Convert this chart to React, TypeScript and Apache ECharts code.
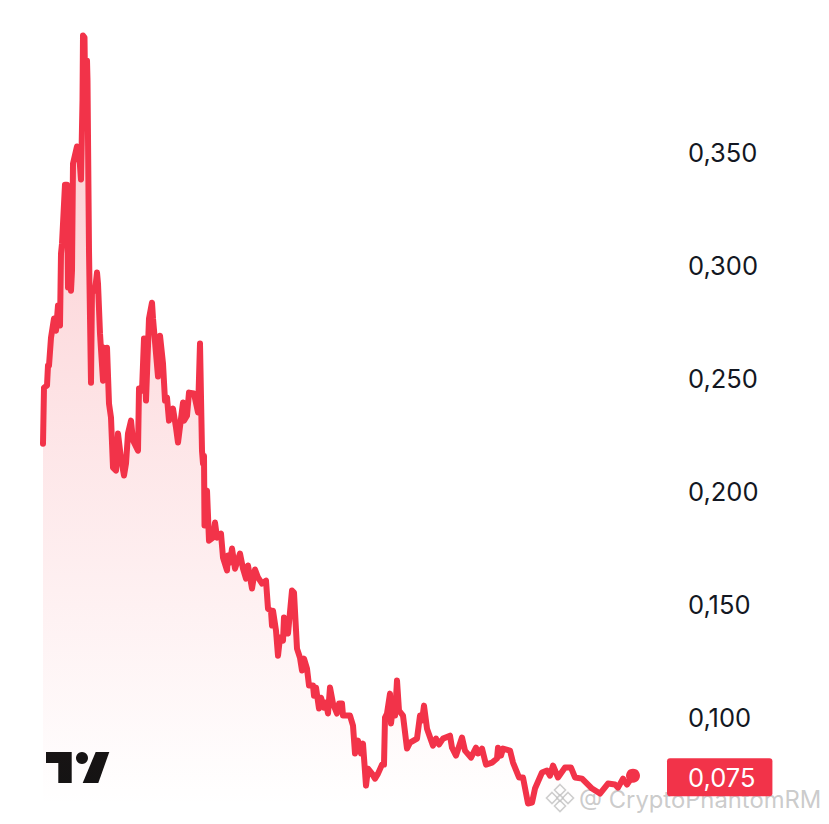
import React, { useEffect, useRef } from "react";
import * as echarts from "echarts";

// [day, price]
const launchRally: [number, number][] = [
  [1, 0.2212], [2, 0.246], [5, 0.2469], [6, 0.2558], [7, 0.2558], [9, 0.2681], [12, 0.2766], [14, 0.2712], [16, 0.2823], [18, 0.2735],
  [19, 0.3053], [20, 0.3097], [23, 0.3358], [25, 0.3358], [26, 0.2903], [28, 0.308], [29, 0.2889], [30, 0.2978], [31, 0.3451], [35, 0.3527],
  [37, 0.35], [39, 0.3381], [40.5, 0.373], [41, 0.4018], [42.5, 0.4009], [43, 0.3819], [45, 0.3907], [45.5, 0.3819], [47, 0.3066], [49, 0.2482],
];
const firstDecline: [number, number][] = [
  [50, 0.2898], [53, 0.2889], [55, 0.2969], [56, 0.292], [58, 0.2699], [61, 0.2491], [62, 0.2637], [64, 0.2505], [65, 0.2637], [67, 0.2389],
  [69, 0.2327], [71, 0.2106], [74, 0.2093], [76, 0.2257], [79, 0.2146], [82, 0.2071], [84, 0.2124], [86, 0.2257], [89, 0.2314], [91, 0.2226],
  [96, 0.2181], [97, 0.2456], [100, 0.2447], [102, 0.2677], [104, 0.2403], [107, 0.2766], [110, 0.2836], [111, 0.2766], [116, 0.2509], [118, 0.269],
  [121, 0.2566], [123, 0.2403], [125, 0.2416], [127, 0.2314], [131, 0.2367], [134, 0.2283], [136, 0.2217], [141, 0.2394], [142, 0.2314], [145, 0.2336],
  [147, 0.2438], [152, 0.2434], [156, 0.235], [158, 0.2655], [160, 0.2181], [161, 0.2124], [162, 0.2159], [162.5, 0.185], [163, 0.1969], [165, 0.2004],
];
const slide: [number, number][] = [
  [167, 0.1783], [171, 0.1796], [173, 0.1863], [175, 0.1796], [179, 0.1814], [181, 0.1708], [185, 0.1651], [186, 0.1717], [188, 0.1686], [190, 0.1748],
  [193, 0.1659], [198, 0.1726], [201, 0.1659], [204, 0.1615], [206, 0.1673], [210, 0.1571], [213, 0.1655], [216, 0.162], [220, 0.1593], [224, 0.1606],
  [226, 0.1482], [229, 0.1473], [230, 0.1407], [231, 0.1473], [234, 0.1385], [236, 0.1274], [238, 0.1354], [241, 0.1341], [242, 0.1443], [246, 0.1372],
  [250, 0.1562], [252, 0.1553], [255, 0.1305], [258, 0.1265], [260, 0.1208], [262, 0.1261], [265, 0.1217], [267, 0.1142], [271, 0.1142], [272, 0.1097],
  [274, 0.1133], [277, 0.104], [279, 0.1088], [282, 0.1044], [284, 0.1066], [286, 0.1018], [288, 0.1133], [291, 0.1062], [295, 0.1018], [297, 0.1062],
  [300, 0.1062], [301, 0.1009], [308, 0.1009], [311, 0.0965], [313, 0.0841], [316, 0.0898], [319, 0.0841], [321, 0.0885], [324, 0.0699], [326, 0.0774],
];
const bounce: [number, number][] = [
  [330, 0.0752], [333, 0.073], [336, 0.0752], [340, 0.0792], [342, 0.0792], [343, 0.1], [345, 0.1018], [348, 0.1106], [349, 0.0974], [352, 0.1084],
  [353, 0.1009], [355, 0.1164], [357, 0.1031], [361, 0.1009], [365, 0.0863], [368, 0.0889], [375, 0.0907], [378, 0.1009], [380, 0.0987], [382, 0.1053],
  [385, 0.0951], [391, 0.0876], [394, 0.0907], [397, 0.0881], [401, 0.0907], [408, 0.092], [410, 0.0867], [414, 0.0832], [420, 0.0912], [423, 0.0854],
  [429, 0.0823], [434, 0.0867], [436, 0.0841], [440, 0.0863], [444, 0.0792], [450, 0.0801], [455, 0.0819], [456, 0.0867], [459, 0.0832], [461, 0.0863],
];
const recent: [number, number][] = [
  [468, 0.0854], [471, 0.0801], [477, 0.0735], [481, 0.0735], [486, 0.062], [490, 0.0624], [493, 0.0686], [500, 0.0757], [505, 0.0766], [508, 0.0743],
  [511, 0.0788], [516, 0.0735], [523, 0.0779], [529, 0.0779], [533, 0.0735], [540, 0.073], [550, 0.0686], [558, 0.0664], [566, 0.0708], [573, 0.0704],
  [576, 0.069], [581, 0.073], [585, 0.0704], [591, 0.0743],
];
const history = [...launchRally, ...firstDecline, ...slide, ...bounce, ...recent];
const lastPoint = history[history.length - 1];

const currentPriceText = "0,075";
const tagLevel = 0.0736;
const RED = "#F23349";
const fmt = (v: number) => v.toFixed(3).replace(".", ",");

export default function App() {
  const ref = useRef<HTMLDivElement>(null);
  useEffect(() => {
    document.body.style.margin = "0";
    const chart = echarts.init(ref.current!, undefined, { renderer: "svg" });
    const wm = "rgba(170,170,170,0.62)";
    const diamond = (cx: number, cy: number, r: number) => ({
      type: "polygon",
      shape: { points: [[cx, cy - r], [cx + r, cy], [cx, cy + r], [cx - r, cy]] },
      style: { fill: "rgba(255,255,255,0.5)", stroke: "rgba(190,190,190,0.75)", lineWidth: 1.6 },
    });
    chart.setOption({
      animation: false,
      backgroundColor: "#ffffff",
      grid: { left: 42, top: 39.6, width: 638, height: 791 },
      xAxis: { type: "value", min: 0, max: 638, show: false },
      yAxis: {
        type: "value",
        position: "right",
        min: 0.05,
        max: 0.4,
        interval: 0.05,
        axisLine: { show: false },
        axisTick: { show: false },
        splitLine: { show: false },
        axisLabel: {
          show: true,
          margin: 8,
          showMinLabel: false,
          showMaxLabel: false,
          formatter: (v: number) => fmt(v),
          color: "#131722",
          fontFamily: "Inter",
          fontSize: 25.5,
        },
      },
      series: [
        {
          type: "line",
          data: history,
          showSymbol: false,
          symbol: "none",
          clip: false,
          silent: true,
          lineStyle: { color: RED, width: 6, join: "round", cap: "round" },
          areaStyle: {
            color: new echarts.graphic.LinearGradient(0, 0, 0, 1, [
              { offset: 0, color: "rgba(242,54,69,0.38)" },
              { offset: 0.97, color: "rgba(242,54,69,0)" },
              { offset: 1, color: "rgba(242,54,69,0)" },
            ]),
          },
          markLine: {
            silent: true,
            symbol: "none",
            lineStyle: { color: "rgba(0,0,0,0)", opacity: 1 },
            data: [
              [
                { coord: [600, tagLevel] },
                {
                  coord: [625, tagLevel],
                  label: {
                    show: true,
                    position: "end",
                    distance: 0,
                    formatter: currentPriceText,
                    backgroundColor: RED,
                    color: "#ffffff",
                    opacity: 1,
                    fontFamily: "Inter",
                    fontSize: 25.5,
                    borderRadius: 3,
                    padding: [5, 17, 7, 21],
                  },
                },
              ],
            ],
          },
        },
        {
          type: "scatter",
          data: [lastPoint],
          symbol: "circle",
          symbolSize: 14,
          clip: false,
          silent: true,
          itemStyle: { color: RED, opacity: 1 },
        },
      ],
      graphic: [
        {
          type: "group",
          children: [
            {
              type: "polygon",
              shape: { points: [[46, 752], [71.7, 752], [71.7, 783], [58.3, 783], [58.3, 763], [46, 763]] },
              style: { fill: "#131313" },
            },
            { type: "circle", shape: { cx: 82, cy: 758, r: 6 }, style: { fill: "#131313" } },
            {
              type: "polygon",
              shape: { points: [[95.7, 752], [109.3, 752], [98.3, 783], [82.7, 783]] },
              style: { fill: "#131313" },
            },
          ],
        },
        {
          type: "group",
          z: 100,
          children: [
            diamond(560, 790, 5.5),
            diamond(552, 798, 5.5),
            diamond(568, 798, 5.5),
            diamond(560, 806, 5.5),
            diamond(560, 798, 3),
            {
              type: "text",
              x: 579,
              y: 799,
              style: {
                text: "@ CryptoPhantomRM",
                fill: wm,
                fontFamily: "Inter",
                fontSize: 23.8,
                lineHeight: 20,
                textVerticalAlign: "middle",
              },
            },
          ],
        },
      ],
    });
    return () => chart.dispose();
  }, []);
  return (
    <div style={{ position: "absolute", left: 0, top: 0, width: 829, height: 824, overflow: "hidden" }}>
      <div ref={ref} style={{ width: 829, height: 860 }} />
    </div>
  );
}
